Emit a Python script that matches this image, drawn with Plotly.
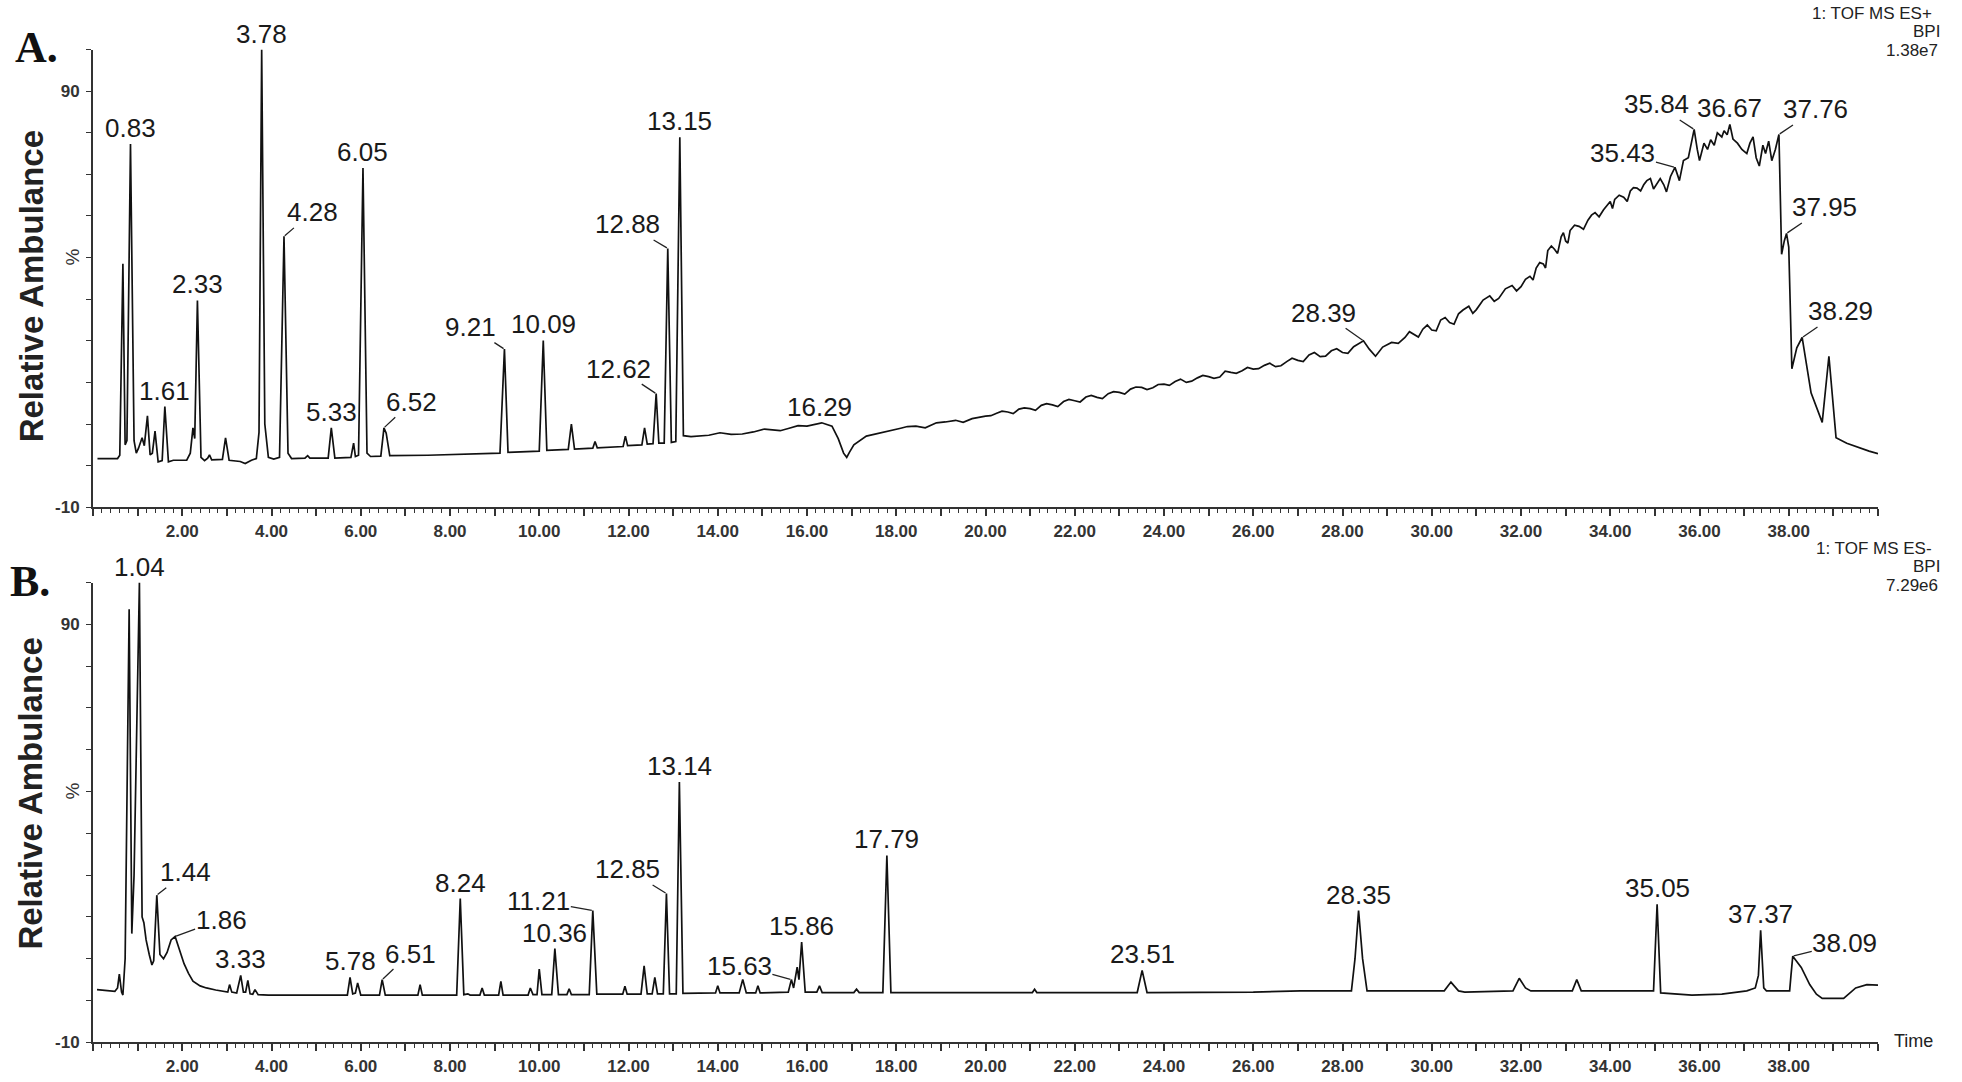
import plotly.graph_objects as go

# ---------------- data ----------------
# Panel A : TOF MS ES+  (time in min, relative abundance %)
A_time = [0.10, 0.55, 0.60, 0.67, 0.72, 0.76, 0.84, 0.92, 0.97, 1.02, 1.10, 1.15, 1.22, 1.28, 1.33, 1.39,
          1.46, 1.55, 1.61, 1.69, 1.80, 2.10, 2.18, 2.24, 2.28, 2.34, 2.42, 2.50, 2.57, 2.61, 2.66, 2.90,
          2.97, 3.05, 3.30, 3.41, 3.55, 3.66, 3.72, 3.78, 3.85, 3.93, 4.05, 4.18, 4.28, 4.37, 4.45, 4.75,
          4.81, 4.86, 5.27, 5.34, 5.42, 5.78, 5.84, 5.88, 5.95, 6.05, 6.14, 6.22, 6.45, 6.52, 6.57, 6.65,
          7.50, 8.50, 9.12, 9.22, 9.30, 10.00, 10.09, 10.17, 10.65, 10.72, 10.79, 11.20, 11.25, 11.30,
          11.88, 11.93, 11.98, 12.30, 12.36, 12.42, 12.55, 12.62, 12.68, 12.80, 12.88, 12.96, 13.06,
          13.15, 13.23, 13.40, 13.80, 14.30, 14.80, 15.20, 15.60, 16.00, 16.33, 16.56, 16.70, 16.82,
          16.89, 16.95, 17.05, 17.33, 17.78, 18.10, 18.44, 18.90, 19.33, 19.70, 20.00, 20.25, 20.50,
          20.75, 21.00, 21.25, 21.50, 21.75, 22.00, 22.25, 22.50, 22.75, 23.00, 23.25, 23.50, 23.75,
          24.00, 24.25, 24.50, 24.75, 25.00, 25.25, 25.50, 25.75, 26.00, 26.25, 26.50, 26.75, 27.00,
          27.25, 27.50, 27.75, 28.00, 28.25, 28.47, 28.60, 28.74, 28.90, 29.10, 29.40, 29.60, 29.80,
          30.00, 30.20, 30.40, 30.60, 30.83, 31.00, 31.30, 31.50, 31.80, 32.00, 32.20, 32.34, 32.50,
          32.60, 32.75, 32.90, 33.00, 33.10, 33.30, 33.50, 33.66, 33.85, 34.00, 34.10, 34.30, 34.45,
          34.60, 34.75, 34.90, 35.05, 35.20, 35.26, 35.35, 35.45, 35.55, 35.64, 35.75, 35.88, 35.95,
          36.00, 36.10, 36.18, 36.25, 36.33, 36.40, 36.50, 36.55, 36.62, 36.68, 36.75, 36.85, 36.95,
          37.06, 37.13, 37.20, 37.27, 37.34, 37.42, 37.48, 37.55, 37.62, 37.70, 37.78, 37.84, 37.90,
          37.95, 38.00, 38.07, 38.18, 38.30, 38.50, 38.62, 38.75, 38.90, 39.06, 39.30, 39.60, 39.80,
          40.00]
A_abund = [1.7, 1.7, 2.5, 48.5, 5.0, 6.0, 77.3, 6.0, 3.0, 4.2, 6.7, 4.8, 12.0, 2.6, 3.0, 8.3,
           0.9, 1.2, 14.2, 0.9, 1.3, 1.3, 3.0, 9.1, 6.5, 39.7, 2.0, 1.2, 1.8, 2.6, 1.4, 1.5,
           6.7, 1.3, 1.0, 0.5, 1.3, 1.7, 8.0, 100.0, 10.0, 2.0, 1.6, 2.0, 55.1, 3.0, 1.7, 1.8,
           2.4, 1.8, 1.8, 9.1, 1.8, 2.0, 5.4, 2.2, 2.5, 71.5, 3.0, 2.2, 2.3, 9.1, 7.8, 2.4,
           2.5, 2.8, 3.0, 28.0, 3.2, 3.5, 30.1, 3.7, 3.9, 10.0, 4.0, 4.2, 5.8, 4.3,
           4.6, 7.1, 4.8, 5.0, 9.1, 5.2, 5.3, 17.3, 5.4, 5.4, 52.2, 5.6, 5.8,
           78.9, 7.2, 7.0, 7.3, 7.5, 8.1, 8.7, 9.0, 9.5, 10.3, 9.5, 6.5, 3.0,
           2.0, 3.2, 5.0, 7.1, 8.3, 9.0, 9.5, 10.3, 10.9, 11.3, 11.9, 12.6, 12.9,
           13.6, 13.7, 14.5, 14.6, 15.4, 15.6, 16.5, 16.4, 17.3, 17.6, 18.4, 18.8, 18.7,
           19.6, 20.2, 20.0, 21.1, 21.4, 21.3, 22.4, 22.8, 23.2, 24.1, 23.8, 25.0, 25.3,
           26.6, 26.2, 27.6, 27.2, 28.6, 30.0, 28.0, 26.3, 28.5, 29.6, 30.8, 31.5, 32.8,
           32.6, 35.0, 34.4, 36.5, 38.3, 37.5, 40.8, 40.2, 43.3, 43.0, 45.5, 47.5, 48.5,
           51.7, 52.0, 55.0, 54.0, 56.5, 57.5, 59.0, 60.8, 61.5, 63.5, 64.0, 64.5, 66.0,
           66.7, 67.5, 69.0, 68.0, 67.5, 65.8, 69.5, 71.7, 68.5, 73.3, 74.0, 80.8, 76.0,
           73.3, 77.5, 76.0, 78.3, 77.0, 80.0, 79.0, 80.5, 79.5, 82.0, 78.5, 77.5, 76.0,
           75.0, 77.5, 79.0, 74.0, 72.0, 77.0, 75.0, 78.0, 73.3, 76.0, 79.6, 50.8, 54.0,
           55.8, 52.5, 23.3, 28.3, 30.8, 17.5, 14.0, 10.4, 26.3, 6.7, 5.4, 4.2, 3.5,
           2.9]
# extra jagged points of the noisy gradient baseline (panel A)
A_time_noise = [14.05, 14.55, 15.05, 15.40, 15.80, 17.55, 18.25, 18.65, 19.10, 19.50,
                20.12, 20.37, 20.62, 20.87, 21.12, 21.37, 21.62, 21.87, 22.12, 22.37, 22.62, 22.87,
                23.12, 23.37, 23.62, 23.87, 24.12, 24.37, 24.62, 24.87, 25.12, 25.37, 25.62, 25.87,
                26.12, 26.37, 26.62, 26.87, 27.12, 27.37, 27.62, 27.87, 28.12, 28.35,
                29.25, 29.50, 29.70, 29.90, 30.10, 30.30, 30.50, 30.70, 30.92, 31.15, 31.40, 31.65,
                31.90, 32.10, 32.27, 32.42, 32.55, 32.68, 32.82, 32.95, 33.05, 33.20, 33.40, 33.58,
                33.75, 33.92, 34.05, 34.20, 34.38, 34.52, 34.68, 34.82, 34.97, 35.12]
A_abund_noise = [7.9, 7.6, 8.8, 8.4, 9.6, 7.6, 9.4, 9.1, 10.5, 10.4,
                 12.0, 13.1, 12.5, 13.9, 13.3, 14.9, 14.2, 15.9, 15.3, 16.9, 16.1, 17.8,
                 17.2, 18.9, 18.3, 19.5, 19.3, 20.8, 20.3, 21.7, 21.0, 22.7, 22.2, 23.6,
                 23.3, 24.6, 24.0, 25.8, 25.0, 27.2, 26.3, 28.1, 27.0, 29.2,
                 29.4, 32.2, 30.9, 33.8, 32.4, 35.6, 34.0, 37.4, 36.6, 39.8, 39.5, 42.5,
                 42.0, 44.8, 44.6, 48.8, 47.5, 52.8, 51.0, 56.0, 53.5, 57.8, 56.8, 60.2,
                 59.8, 62.5, 61.8, 65.0, 63.5, 66.8, 66.0, 68.5, 66.5, 69.0]

# Panel B : TOF MS ES-
B_time = [0.09, 0.49, 0.55, 0.59, 0.64, 0.67, 0.72, 0.81, 0.87, 0.92, 1.04, 1.10, 1.14, 1.19, 1.26, 1.32,
          1.36, 1.43, 1.50, 1.58, 1.66, 1.75, 1.84, 1.94, 2.04, 2.14, 2.24, 2.40, 2.54, 2.75, 2.94, 3.02,
          3.06, 3.11, 3.22, 3.31, 3.37, 3.42, 3.47, 3.52, 3.58, 3.63, 3.70, 3.93, 5.70, 5.76, 5.82, 5.88,
          5.93, 6.00, 6.42, 6.48, 6.55, 7.28, 7.33, 7.38, 8.15, 8.23, 8.31, 8.40, 8.45, 8.67, 8.72, 8.77,
          9.09, 9.14, 9.19, 9.75, 9.80, 9.86, 9.95, 10.00, 10.06, 10.28, 10.35, 10.43, 10.62, 10.67,
          10.72, 11.12, 11.20, 11.29, 11.87, 11.92, 11.97, 12.28, 12.35, 12.42, 12.53, 12.59, 12.65,
          12.78, 12.85, 12.92, 13.07, 13.14, 13.22, 13.95, 14.00, 14.05, 14.48, 14.56, 14.64, 14.85,
          14.90, 14.95, 15.58, 15.65, 15.70, 15.78, 15.82, 15.88, 15.96, 16.22, 16.28, 16.34, 17.05,
          17.11, 17.17, 17.70, 17.79, 17.88, 21.05, 21.10, 21.15, 23.40, 23.51, 23.62, 26.00, 27.06,
          28.20, 28.28, 28.36, 28.45, 28.55, 30.28, 30.43, 30.60, 30.74, 31.82, 31.96, 32.10, 32.22,
          33.15, 33.25, 33.35, 34.97, 35.05, 35.13, 35.83, 36.50, 37.06, 37.25, 37.32, 37.37, 37.44,
          37.50, 38.02, 38.05, 38.09, 38.28, 38.47, 38.62, 38.75, 39.23, 39.50, 39.75, 40.00]
B_abund = [2.6, 2.2, 3.0, 6.3, 2.0, 1.3, 10.0, 93.6, 16.0, 30.0, 100.0, 20.0, 18.6, 14.5, 11.0, 8.5,
           9.5, 25.2, 11.0, 10.0, 11.5, 14.5, 15.3, 12.0, 8.8, 6.5, 4.6, 3.5, 3.0, 2.5, 2.2, 2.0,
           3.8, 2.0, 1.8, 6.0, 2.0, 2.0, 4.8, 1.6, 1.5, 2.6, 1.4, 1.3, 1.3, 5.5, 1.6, 1.8,
           4.2, 1.3, 1.3, 5.0, 1.3, 1.3, 3.8, 1.3, 1.3, 24.4, 1.4, 1.6, 1.3, 1.3, 3.0, 1.3,
           1.3, 4.6, 1.3, 1.3, 3.0, 1.4, 1.4, 7.5, 1.4, 1.4, 12.4, 1.4, 1.4, 2.8,
           1.4, 1.4, 21.5, 1.5, 1.5, 3.4, 1.5, 1.5, 8.3, 1.6, 1.6, 5.5, 1.6,
           1.6, 25.6, 1.6, 1.6, 52.3, 1.7, 1.8, 3.5, 1.8, 1.8, 5.0, 1.8, 1.8,
           3.5, 1.8, 2.0, 5.0, 3.0, 8.0, 5.0, 14.0, 2.0, 2.0, 3.5, 1.9, 1.9,
           2.7, 1.9, 1.9, 34.7, 1.9, 1.9, 2.7, 1.9, 1.9, 7.2, 1.9, 2.0, 2.3,
           2.3, 10.0, 21.5, 10.0, 2.3, 2.3, 4.4, 2.3, 2.0, 2.3, 5.3, 3.0, 2.3,
           2.3, 5.0, 2.3, 2.3, 23.0, 1.8, 1.3, 1.5, 2.3, 3.0, 6.0, 16.8, 3.0,
           2.3, 2.3, 6.0, 10.6, 7.9, 3.8, 1.5, 0.5, 0.5, 3.0, 3.8, 3.7]

# Peak labels: text, apex time, apex abundance
A_labels = ["0.83", "1.61", "2.33", "3.78", "4.28", "5.33", "6.05", "6.52", "9.21", "10.09", "12.62",
            "12.88", "13.15", "16.29", "28.39", "35.43", "35.84", "36.67", "37.76", "37.95", "38.29"]
A_lab_t = [0.84, 1.61, 2.34, 3.78, 4.28, 5.34, 6.05, 6.52, 9.22, 10.09, 12.62,
           12.88, 13.15, 16.29, 28.47, 35.45, 35.88, 36.68, 37.78, 37.95, 38.30]
A_lab_v = [77.3, 14.2, 39.7, 100.0, 55.1, 9.1, 71.5, 9.1, 28.0, 30.1, 17.3,
           52.2, 78.9, 10.2, 30.0, 71.7, 80.8, 82.0, 79.6, 55.8, 30.8]

B_labels = ["1.04", "1.44", "1.86", "3.33", "5.78", "6.51", "8.24", "10.36", "11.21", "12.85",
            "13.14", "15.63", "15.86", "17.79", "23.51", "28.35", "35.05", "37.37", "38.09"]
B_lab_t = [1.04, 1.43, 1.84, 3.31, 5.76, 6.48, 8.23, 10.35, 11.20, 12.85,
           13.14, 15.65, 15.88, 17.79, 23.51, 28.36, 35.05, 37.37, 38.09]
B_lab_v = [100.0, 25.2, 15.3, 6.0, 5.5, 5.0, 24.4, 12.4, 21.5, 25.6,
           52.3, 5.0, 14.0, 34.7, 7.2, 21.5, 23.0, 16.8, 10.6]

# Axis tick labels
x_tick_vals = list(range(0, 41))
x_tick_text = [("%.2f" % v) if (v % 2 == 0 and 0 < v < 40) else "" for v in x_tick_vals]
y_tick_vals = list(range(-10, 101, 10))
y_tick_text = ["-10" if v == -10 else ("90" if v == 90 else "") for v in y_tick_vals]

# merge the panel A point sets in time order
_pairs = sorted(zip(A_time + A_time_noise, A_abund + A_abund_noise))
A_x = [p[0] for p in _pairs]
A_y = [p[1] for p in _pairs]

# ---------------- style / layout ----------------
W, H = 1962, 1082
SANS = "Arial, Liberation Sans, Helvetica, sans-serif"
SERIF = "Times New Roman, Liberation Serif, serif"
INK = "#1a1a1a"
AX = "#333333"

# leader offsets in pixels (label centre relative to apex); others sit right above apex
A_leader = {"4.28": (28, -24), "6.52": (28, -26), "9.21": (-34, -22), "12.62": (-38, -25),
            "12.88": (-40, -24), "28.39": (-40, -28), "35.43": (-52, -14), "35.84": (-38, -25),
            "37.76": (37, -25), "37.95": (38, -26), "38.29": (38, -26)}
B_leader = {"1.44": (29, -23), "1.86": (46, -17), "6.51": (28, -26), "11.21": (-54, -10),
            "12.85": (-39, -24), "15.63": (-52, -14), "38.09": (52, -13)}

xdom = [93 / W, 1878 / W]
ydomA = [1 - 512 / H, 1 - 50 / H]
ydomB = [1 - 1052 / H, 1 - 588 / H]

fig = go.Figure()
fig.add_trace(go.Scatter(x=A_x, y=A_y, mode="lines", line=dict(color="#111111", width=1.7),
                         xaxis="x", yaxis="y", hoverinfo="skip", showlegend=False))
fig.add_trace(go.Scatter(x=B_time, y=B_abund, mode="lines", line=dict(color="#111111", width=1.7),
                         xaxis="x2", yaxis="y2", hoverinfo="skip", showlegend=False))


def xaxis_style(anchor):
    return dict(domain=xdom, anchor=anchor, range=[0, 40], showgrid=False, zeroline=False,
                showline=True, linecolor=AX, linewidth=2,
                tickmode="array", tickvals=x_tick_vals, ticktext=x_tick_text,
                ticks="outside", ticklen=7, tickwidth=1.6, tickcolor=AX,
                tickfont=dict(family=SANS, size=17, color="#333333", weight="bold"),
                minor=dict(dtick=0.2, ticks="outside", ticklen=4, tickwidth=1.4, tickcolor=AX),
                fixedrange=True)


def yaxis_style(anchor, dom):
    return dict(domain=dom, anchor=anchor, range=[-10, 100], showgrid=False, zeroline=False,
                showline=True, linecolor=AX, linewidth=2,
                tickmode="array", tickvals=y_tick_vals, ticktext=y_tick_text,
                ticks="outside", ticklen=5, tickwidth=1.4, tickcolor=AX,
                ticklabelstandoff=3,
                tickfont=dict(family=SANS, size=17, color="#333333", weight="bold"), fixedrange=True)


annotations = []


def add_labels(labels, ts, vs, leaders, xref, yref):
    for txt, t, v in zip(labels, ts, vs):
        f = dict(family=SANS, size=26, color=INK)
        if txt in leaders:
            dx, dy = leaders[txt]
            annotations.append(dict(x=t, y=v, xref=xref, yref=yref, text=txt, showarrow=True,
                                    ax=dx, ay=dy, arrowhead=0, arrowwidth=1.3, arrowcolor="#222222",
                                    standoff=1, font=f, borderpad=0))
        else:
            annotations.append(dict(x=t, y=v, xref=xref, yref=yref, text=txt, showarrow=False,
                                    xanchor="center", yanchor="bottom", yshift=0, font=f, borderpad=0))


add_labels(A_labels, A_lab_t, A_lab_v, A_leader, "x", "y")
add_labels(B_labels, B_lab_t, B_lab_v, B_leader, "x2", "y2")

# panel letters
annotations.append(dict(x=36 / W, y=1 - 48 / H, xref="paper", yref="paper", text="<b>A.</b>",
                        showarrow=False, font=dict(family=SERIF, size=44, color="#111111"),
                        xanchor="center", yanchor="middle"))
annotations.append(dict(x=30 / W, y=1 - 587 / H, xref="paper", yref="paper", text="<b>B.</b>",
                        showarrow=False, font=dict(family=SERIF, size=44, color="#111111"),
                        xanchor="center", yanchor="middle"))

# y titles
for yc in (1 - 289 / H, 1 - 801 / H):
    annotations.append(dict(x=31 / W, y=yc, xref="paper", yref="paper", text="<b>Relative Ambulance</b>",
                            showarrow=False, textangle=-90,
                            font=dict(family=SANS, size=33, color="#222222"),
                            xanchor="center", yanchor="middle"))

# "%" markers on the y axes
for yr in ("y", "y2"):
    annotations.append(dict(x=73 / W, y=50, xref="paper", yref=yr, text="%", showarrow=False,
                            textangle=-90, font=dict(family=SANS, size=19, color="#333333"),
                            xanchor="center", yanchor="middle"))

# instrument info, top right of each panel
infoA = ["1: TOF MS ES+", "BPI", "1.38e7"]
infoB = ["1: TOF MS ES-", "BPI", "7.29e6"]
for lines, ys, xr in ((infoA, (14, 32, 51), (1934, 1942, 1940)), (infoB, (554, 572, 591), (1934, 1942, 1940))):
    for s, yy, xx in zip(lines, ys, xr):
        annotations.append(dict(x=xx / W, y=1 - yy / H, xref="paper", yref="paper", text=s,
                                showarrow=False, xanchor="right", yanchor="middle",
                                font=dict(family=SANS, size=17, color="#222222")))

# "Time" label at the end of the lower axis
annotations.append(dict(x=1892 / W, y=1 - 1051 / H, xref="paper", yref="paper", text="Time",
                        showarrow=False, xanchor="left", yanchor="middle",
                        font=dict(family=SANS, size=18, color="#222222")))

fig.update_layout(
    width=W, height=H,
    margin=dict(l=0, r=0, t=0, b=0),
    paper_bgcolor="white", plot_bgcolor="white",
    xaxis=xaxis_style("y"), yaxis=yaxis_style("x", ydomA),
    xaxis2=xaxis_style("y2"), yaxis2=yaxis_style("x2", ydomB),
    annotations=annotations,
    showlegend=False,
)

fig.write_html("out.html", config={"displayModeBar": False},
               post_script="document.body.style.margin='0px';document.body.style.overflow='hidden';")
